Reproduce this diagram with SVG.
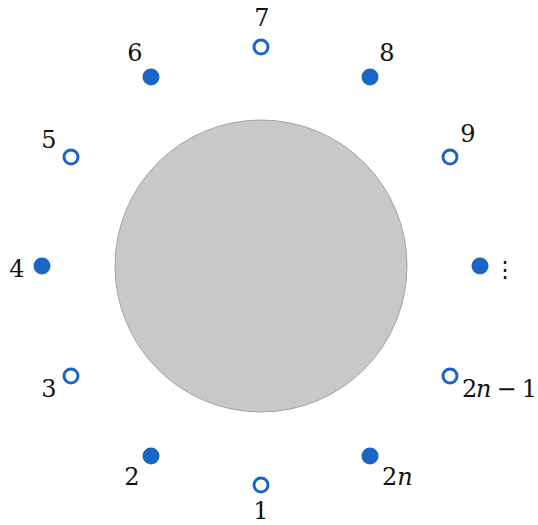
<svg xmlns="http://www.w3.org/2000/svg" width="538" height="525" viewBox="0 0 538 525">
<style>
text{font-family:'DejaVu Serif',serif;font-size:24px;fill:#111}
.open{fill:#fff;stroke:#1a66c4;stroke-width:3}
.fill{fill:#1a66c4}
</style>
<rect width="538" height="525" fill="#fff"/>
<g id="disk"><circle cx="261" cy="266" r="146" fill="#c8c8c8" stroke="#a3a3a3" stroke-width="1"/></g>
<g id="connectors"></g>
<g id="n1"><circle class="open" cx="261" cy="485" r="7"/><text x="261" y="519" text-anchor="middle">1</text></g>
<g id="n2"><circle class="fill" cx="151" cy="456" r="8.5"/><text x="132" y="485" text-anchor="middle">2</text></g>
<g id="n3"><circle class="open" cx="71" cy="376" r="7"/><text x="49" y="397" text-anchor="middle">3</text></g>
<g id="n4"><circle class="fill" cx="42" cy="266" r="8.5"/><text x="17" y="277" text-anchor="middle">4</text></g>
<g id="n5"><circle class="open" cx="71" cy="157" r="7"/><text x="49" y="148" text-anchor="middle">5</text></g>
<g id="n6"><circle class="fill" cx="151" cy="77" r="8.5"/><text x="135" y="61" text-anchor="middle">6</text></g>
<g id="n7"><circle class="open" cx="261" cy="47" r="7"/><text x="262" y="26" text-anchor="middle">7</text></g>
<g id="n8"><circle class="fill" cx="370" cy="77" r="8.5"/><text x="387" y="61" text-anchor="middle">8</text></g>
<g id="n9"><circle class="open" cx="450" cy="157" r="7"/><text x="468" y="142" text-anchor="middle">9</text></g>
<g id="n10"><circle class="fill" cx="480" cy="266" r="8.5"/><text x="505" y="277" text-anchor="middle" style="font-size:22px">⋮</text></g>
<g id="n11"><circle class="open" cx="450" cy="376" r="7"/><text x="462" y="397" textLength="75">2<tspan font-style="italic">n</tspan> − 1</text></g>
<g id="n12"><circle class="fill" cx="370" cy="456" r="8.5"/><text x="382" y="485">2<tspan font-style="italic">n</tspan></text></g>
</svg>
